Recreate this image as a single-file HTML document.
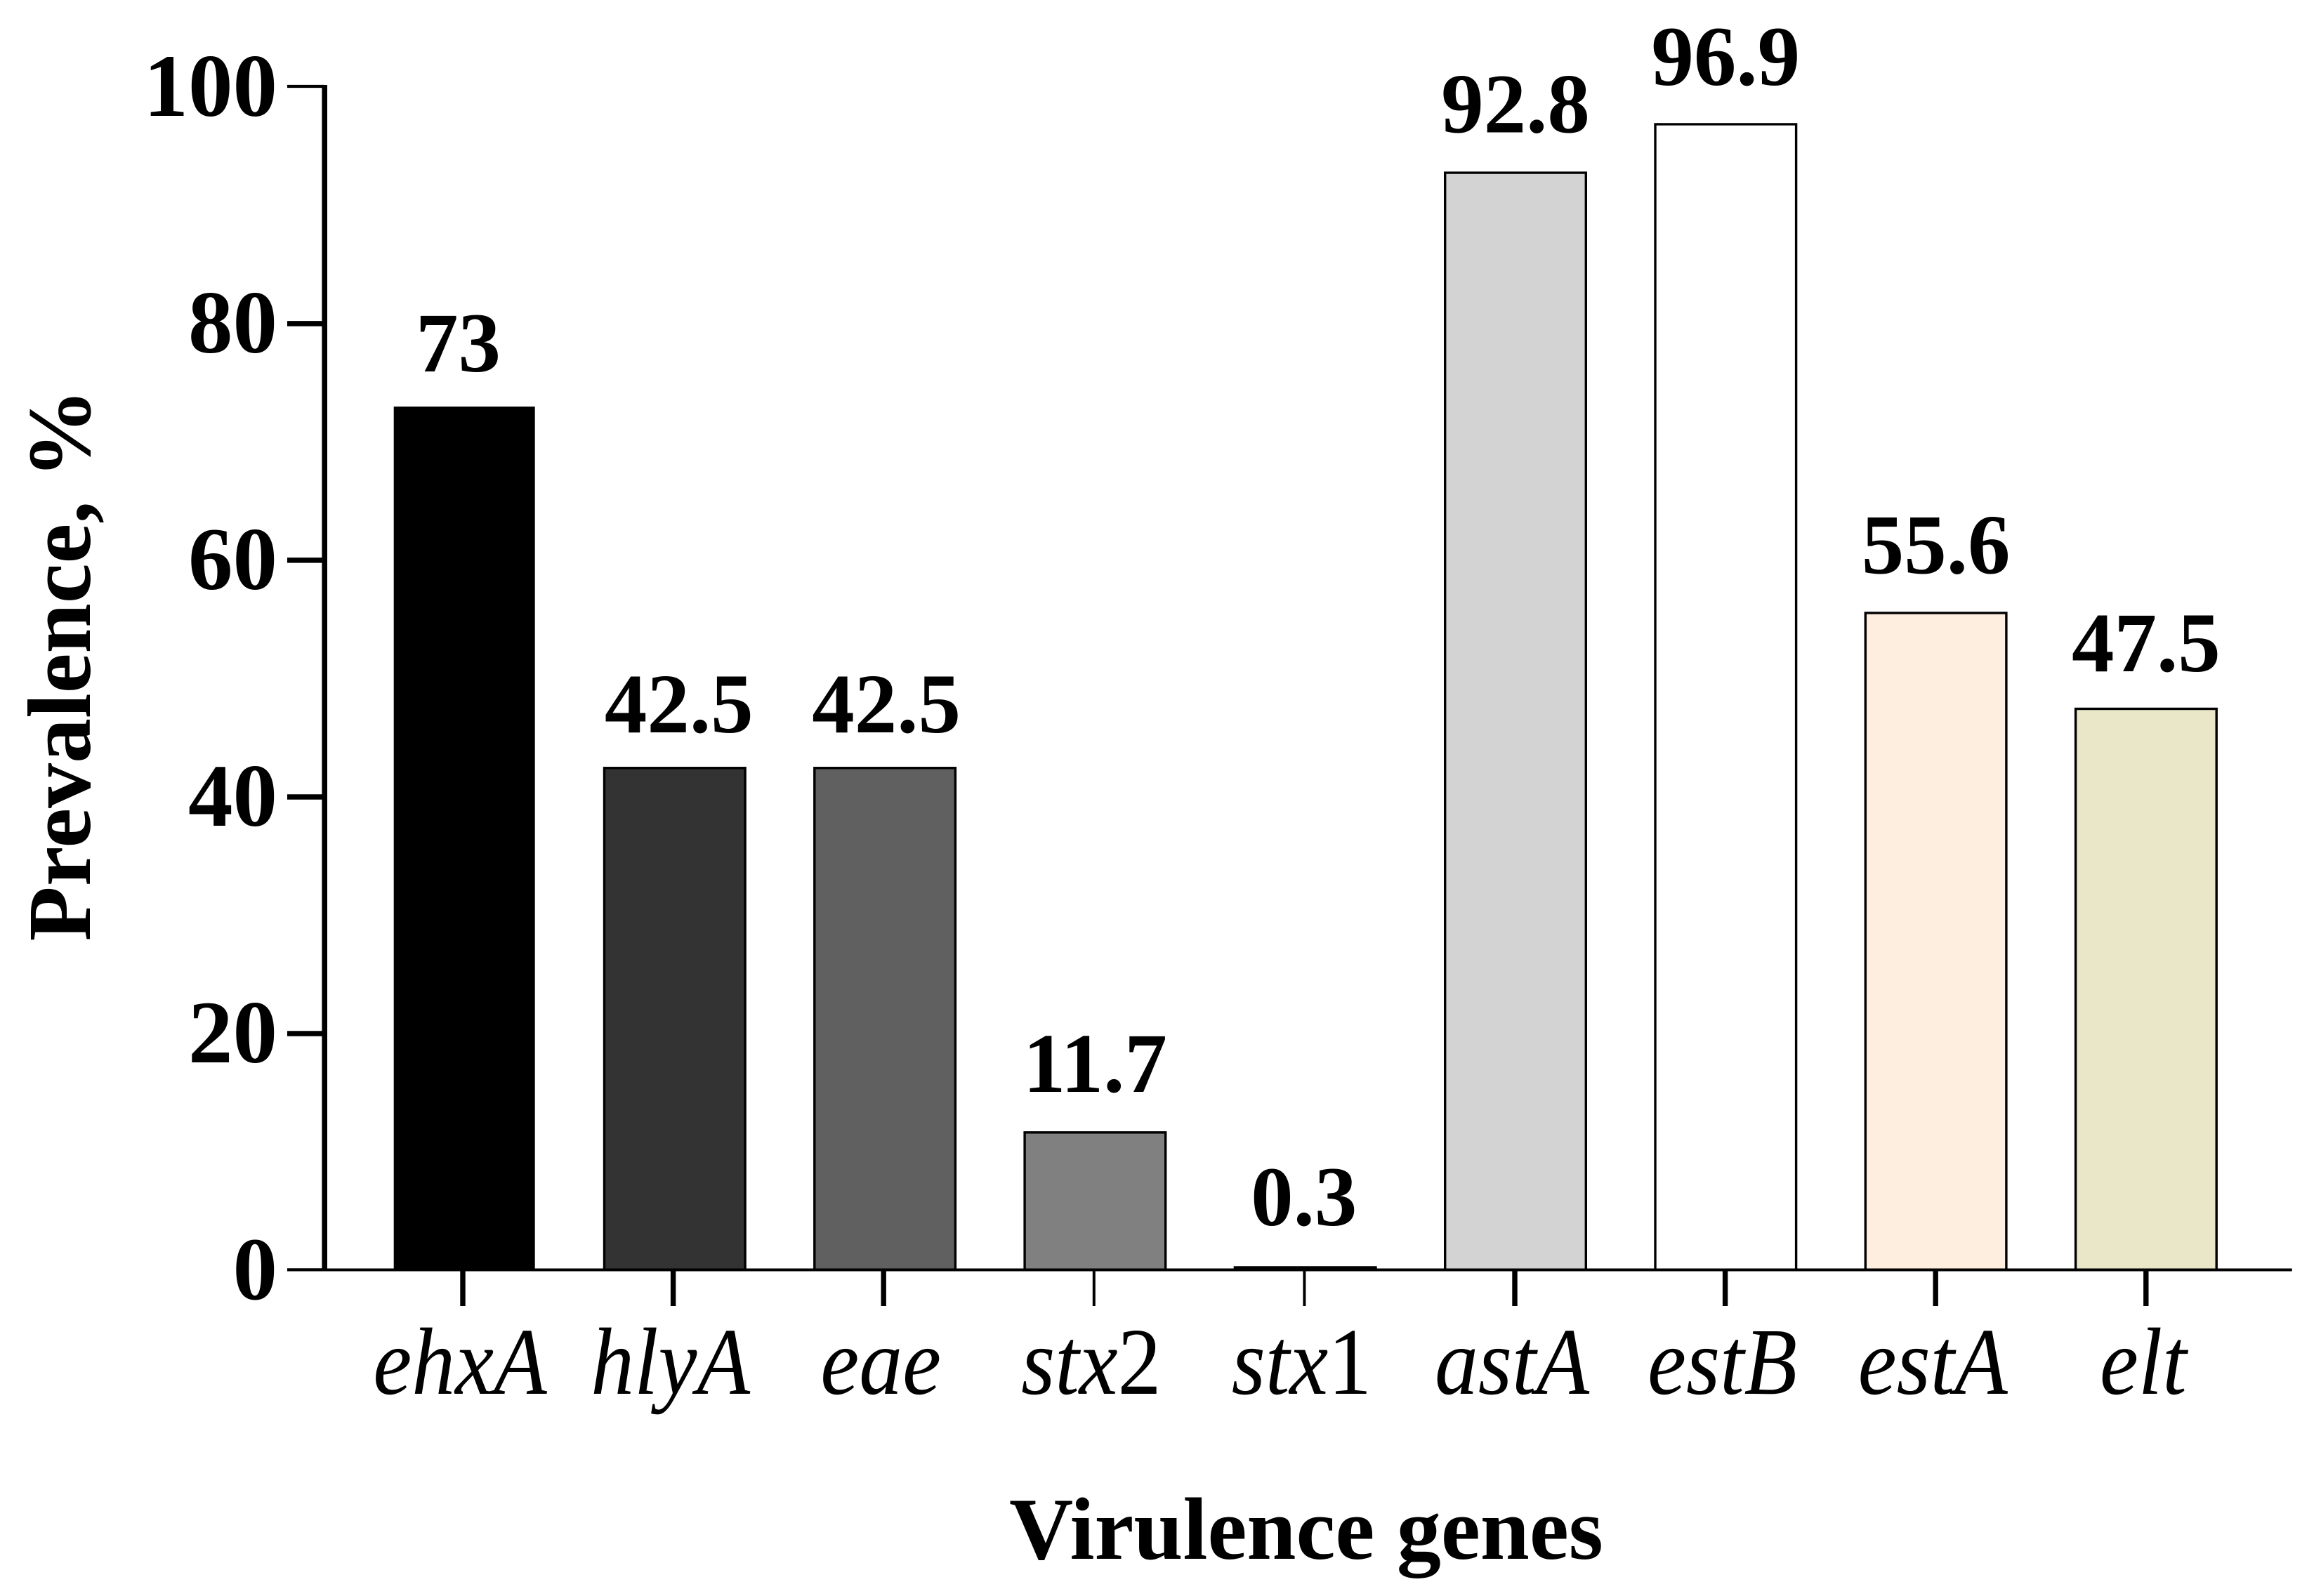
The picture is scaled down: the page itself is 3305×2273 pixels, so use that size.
<!DOCTYPE html>
<html lang="en">
<head>
<meta charset="utf-8">
<title>Prevalence of virulence genes</title>
<style>
  html, body { margin: 0; padding: 0; background: #fff; }
  svg { display: block; }
  text { font-family: "Liberation Serif", serif; fill: #000; }
  .bold { font-weight: bold; }
</style>
</head>
<body>
<svg id="chart" xmlns="http://www.w3.org/2000/svg" width="3305" height="2273" viewBox="0 0 3305 2273">
  <rect x="0" y="0" width="3305" height="2273" fill="#ffffff"/>
  <g id="bars"></g>
  <g id="axes"></g>
  <g id="labels"></g>
  <text class="bold" x="1860" y="2220" font-size="126" text-anchor="middle">Virulence genes</text>
  <text class="bold" transform="translate(128 947) rotate(-90)" font-size="128" text-anchor="middle" xml:space="preserve">Prevalence, %</text>
</svg>
<script>
const categories = ['ehxA', 'hlyA', 'eae', 'stx2', 'stx1', 'astA', 'estB', 'estA', 'elt'];
const prevalence = [73, 42.5, 42.5, 11.7, 0.3, 92.8, 96.9, 55.6, 47.5];
const valueLabels = ['73', '42.5', '42.5', '11.7', '0.3', '92.8', '96.9', '55.6', '47.5'];
const yTickValues = [0, 20, 40, 60, 80, 100];
const barFills = ['#000000', '#333333', '#606060', '#808080', '#000000', '#d3d3d3', '#ffffff', '#fdeee0', '#eae6c8'];

const SVG_NS = 'http://www.w3.org/2000/svg';
const yBase = 1808.3;
const yPerUnit = 16.853;
const yScale = function (v) { return yBase - v * yPerUnit; };
const barCenter = function (i) { return 661.5 + 299.3 * i; };
const tickCenter = function (i) { return 659 + 299.6 * i; };
const barOuterWidth = 204;
const barStroke = 3.4;
/* hand-placed label offsets seen in the figure, separate from the data */
const labelGap = function (i) { return [49, 49, 49, 56, 58, 56, 54, 55, 52][i]; };
const labelShift = function (i) { return [-9, 6, 2, 0, -2, 0, 0, 0, 0][i]; };

const barsLayer = document.getElementById('bars');
const axesLayer = document.getElementById('axes');
const labelsLayer = document.getElementById('labels');

function make(tag, attrs, parent) {
  const el = document.createElementNS(SVG_NS, tag);
  Object.keys(attrs).forEach(function (k) { el.setAttribute(k, attrs[k]); });
  parent.appendChild(el);
  return el;
}

/* bars and value labels */
categories.forEach(function (cat, i) {
  const c = barCenter(i);
  const top = yScale(prevalence[i]);
  const borderless = (i === 0);
  const rect = borderless
    ? make('rect', {
        x: c - 100.8,
        y: top + 1,
        width: 201,
        height: yBase - top - 1,
        fill: barFills[i]
      }, barsLayer)
    : make('rect', {
        x: c - barOuterWidth / 2 + barStroke / 2,
        y: top + barStroke / 2,
        width: barOuterWidth - barStroke,
        height: Math.max(yBase - top - barStroke / 2, 0.1),
        fill: barFills[i],
        stroke: '#000000',
        'stroke-width': barStroke
      }, barsLayer);
  
  

  const label = make('text', {
    x: c + labelShift(i),
    y: top - labelGap(i),
    'font-size': 121,
    'text-anchor': 'middle',
    class: 'bold'
  }, labelsLayer);
  label.textContent = valueLabels[i];
  
  
});

/* y axis line */
const yAxis = make('line', { x1: 462.2, x2: 462.2, y1: 121, y2: 1810, stroke: '#000', 'stroke-width': 7.6 }, axesLayer);



/* x axis line */
const xAxis = make('line', { x1: 409, x2: 3263.7, y1: yBase + 0.2, y2: yBase + 0.2, stroke: '#000', 'stroke-width': 4 }, axesLayer);



/* y ticks */
yTickValues.forEach(function (v) {
  const y = yScale(v);
  const isEnd = (v === 0 || v === 100);
  const tick = make('line', { x1: 409, x2: 462, y1: y + (isEnd ? 0 : 0.8), y2: y + (isEnd ? 0 : 0.8), stroke: '#000', 'stroke-width': isEnd ? 4.2 : 7.5 }, axesLayer);
  
  

  const label = make('text', { x: 395, y: y + 42, 'font-size': 127, 'text-anchor': 'end', class: 'bold' }, labelsLayer);
  label.textContent = String(v);
  
  
});

/* x ticks and category labels */
categories.forEach(function (cat, i) {
  const x = tickCenter(i);
  const thin = (cat === 'stx2' || cat === 'stx1');
  const tick = make('line', { x1: x, x2: x, y1: yBase, y2: 1860, stroke: '#000', 'stroke-width': thin ? 4 : 7.4 }, axesLayer);
  
  

  const label = make('text', {
    transform: 'translate(' + (x - 4) + ' 1985) scale(0.91 1)',
    'font-size': 136,
    'text-anchor': 'middle',
    'font-style': 'italic'
  }, labelsLayer);
  const match = cat.match(/^([a-zA-Z]+)(\d*)$/);
  const letters = make('tspan', {}, label);
  letters.textContent = match[1];
  if (match[2]) {
    const digits = make('tspan', { 'font-style': 'normal' }, label);
    digits.textContent = match[2];
  }
  
  
});
</script>
</body>
</html>
